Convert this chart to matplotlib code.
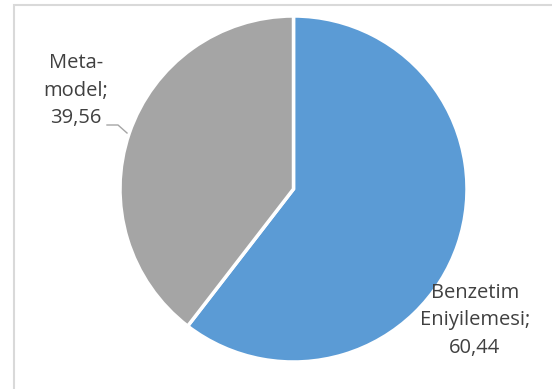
import matplotlib
matplotlib.use("Agg")
import matplotlib.pyplot as plt

categories = ["Benzetim\nEniyilemesi", "Meta-\nmodel"]
values = [60.44, 39.56]
colors = ["#5B9BD5", "#A5A5A5"]

W, H = 552, 389
DPI = 100
fig = plt.figure(figsize=(W / DPI, H / DPI), dpi=DPI)
fig.patch.set_facecolor("white")

def fx(px):
    return px / W

def fy(py):
    return 1 - py / H

# chart area frame: only top and left edges fall inside the image
fig.add_artist(plt.Line2D([fx(14), fx(14), 1.0], [0.0, fy(5), fy(5)],
                          transform=fig.transFigure, color="#D9D9D9",
                          linewidth=1.5, solid_joinstyle="miter"))

# pie box in pixels: left, right, top, bottom
L, R, T, B = 120, 467, 16, 362
ax = fig.add_axes([fx(L), fy(B), (R - L) / W, (B - T) / H])
wedges, _ = ax.pie(values, colors=colors, startangle=90, counterclock=False,
                   wedgeprops=dict(edgecolor="white", linewidth=2.5))
ax.set_aspect("auto")
ax.set_xlim(-1, 1)
ax.set_ylim(-1, 1)
ax.axis("off")

font = dict(family=["Open Sans", "DejaVu Sans"], size=14.5, color="#404040",
            ha="center", va="center", linespacing=1.5)

def lab(i):
    return f"{categories[i]};\n{values[i]:.2f}".replace(".", ",")

fig.text(fx(475), fy(320), lab(0), **font)
fig.text(fx(76), fy(91), lab(1), **font)

# leader line for the grey slice label
fig.add_artist(plt.Line2D([fx(107), fx(118), fx(127)], [fy(125), fy(125), fy(133)],
                          transform=fig.transFigure, color="#A5A5A5", linewidth=1))

fig.savefig("out.png", dpi=DPI, facecolor="white")
